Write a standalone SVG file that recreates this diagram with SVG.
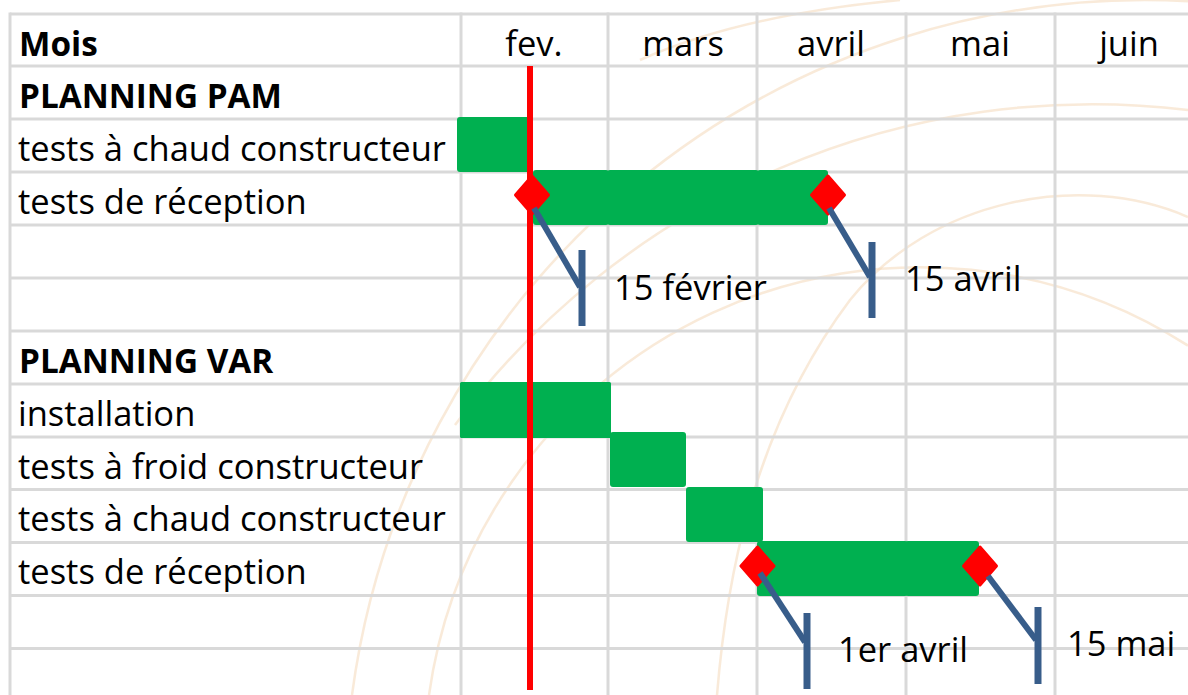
<svg xmlns="http://www.w3.org/2000/svg" width="1188" height="695" viewBox="0 0 1188 695">
  <style>
    .wm { fill: none; stroke: #f3d6b4; stroke-width: 2.5; opacity: 0.5; }
    .grid line { stroke: #d9d9d9; stroke-width: 3; }
    .t { font-family: "Open Sans", "Liberation Sans", sans-serif; font-size: 34.5px; fill: #000; }
    .b { font-family: "Open Sans", "Liberation Sans", sans-serif; font-size: 33.3px; font-weight: bold; fill: #000; }
    .m { text-anchor: middle; }
    .bar { fill: #00b050; }
    .ms { fill: #ff0000; stroke: #ff0000; stroke-width: 3; stroke-linejoin: round; }
    .lead { fill: none; stroke: #385d8a; stroke-width: 6; }
    .accent { stroke: #385d8a; stroke-width: 7; }
    .today { stroke: #ff0000; stroke-width: 6; }
  </style>

  <rect width="1188" height="695" fill="#ffffff"/>

  <!-- faint background arcs -->
  <g id="watermark">
    <path class="wm" d="M352,695 A800,800 0 0 1 1188,1.2"/>
    <path class="wm" d="M455,425 A793,793 0 0 1 1188,110"/>
    <path class="wm" d="M429,695 A496,496 0 0 1 1188,345.6"/>
    <path class="wm" d="M717,695 C728,560 760,420 850,300 C930,200 1080,170 1188,217"/>
    <path class="wm" d="M640,60 Q740,15 900,0"/>
  </g>

  <!-- table grid -->
  <g id="grid" class="grid">
    <line x1="10" y1="14" x2="1188" y2="14"/>
    <line x1="10" y1="66" x2="1188" y2="66"/>
    <line x1="10" y1="119" x2="1188" y2="119"/>
    <line x1="10" y1="172" x2="1188" y2="172"/>
    <line x1="10" y1="225" x2="1188" y2="225"/>
    <line x1="10" y1="278" x2="1188" y2="278"/>
    <line x1="10" y1="331" x2="1188" y2="331"/>
    <line x1="10" y1="384" x2="1188" y2="384"/>
    <line x1="10" y1="437" x2="1188" y2="437"/>
    <line x1="10" y1="489.5" x2="1188" y2="489.5"/>
    <line x1="10" y1="542.5" x2="1188" y2="542.5"/>
    <line x1="10" y1="595.5" x2="1188" y2="595.5"/>
    <line x1="10" y1="648.5" x2="1188" y2="648.5"/>
    <line x1="10" y1="12.5" x2="10" y2="695"/>
    <line x1="461" y1="12.5" x2="461" y2="695"/>
    <line x1="608" y1="12.5" x2="608" y2="695"/>
    <line x1="757" y1="12.5" x2="757" y2="695"/>
    <line x1="906" y1="12.5" x2="906" y2="695"/>
    <line x1="1055" y1="12.5" x2="1055" y2="695"/>
  </g>

  <!-- column headers -->
  <g id="header">
    <text class="b" x="19" y="56">Mois</text>
    <text class="t m" x="534" y="56">fev.</text>
    <text class="t m" x="683" y="56">mars</text>
    <text class="t m" x="831" y="56">avril</text>
    <text class="t m" x="980" y="56">mai</text>
    <text class="t m" x="1129" y="56">juin</text>
  </g>

  <!-- row labels -->
  <g id="labels">
    <text class="b" x="19" y="108">PLANNING PAM</text>
    <text class="t" x="18" y="161">tests à chaud constructeur</text>
    <text class="t" x="18" y="214">tests de réception</text>
    <text class="b" x="19" y="373">PLANNING VAR</text>
    <text class="t" x="18" y="426">installation</text>
    <text class="t" x="18" y="479">tests à froid constructeur</text>
    <text class="t" x="18" y="531">tests à chaud constructeur</text>
    <text class="t" x="18" y="584">tests de réception</text>
  </g>

  <!-- task bars -->
  <g id="pam-chaud">
    <rect class="bar" x="457" y="117" width="73" height="55" rx="3"/>
  </g>
  <g id="pam-reception">
    <rect class="bar" x="533" y="170" width="76" height="55" rx="3"/>
    <rect class="bar" x="607" y="170" width="152" height="55" rx="3"/>
    <rect class="bar" x="757" y="170" width="71" height="55" rx="3"/>
  </g>
  <g id="var-installation">
    <rect class="bar" x="460" y="382" width="151" height="56" rx="1.5"/>
  </g>
  <g id="var-froid">
    <rect class="bar" x="610" y="432" width="76" height="55" rx="3"/>
  </g>
  <g id="var-chaud">
    <rect class="bar" x="686" y="487" width="77" height="55" rx="3"/>
  </g>
  <g id="var-reception">
    <rect class="bar" x="757" y="541" width="151" height="55" rx="3"/>
    <rect class="bar" x="905" y="541" width="74" height="55" rx="3"/>
  </g>

  <!-- current date marker -->
  <g id="today">
    <line class="today" x1="530" y1="66" x2="530" y2="690"/>
  </g>

  <!-- milestones -->
  <g id="ms-pam-start"><path class="ms" d="M532,176 L548.5,195 L532,214 L515.5,195 Z"/></g>
  <g id="ms-pam-end"><path class="ms" d="M828,176 L844.5,195 L828,214 L811.5,195 Z"/></g>
  <g id="ms-var-start"><path class="ms" d="M757.5,547 L774,566 L757.5,585 L741,566 Z"/></g>
  <g id="ms-var-end"><path class="ms" d="M980,547 L996.5,566 L980,585 L963.5,566 Z"/></g>

  <!-- milestone callouts -->
  <g id="connectors">
    <polyline class="lead" points="534,208 580,287"/>
    <line class="accent" x1="582" y1="250" x2="582" y2="326"/>
    <polyline class="lead" points="829,208 870,277"/>
    <line class="accent" x1="872" y1="242" x2="872" y2="318"/>
    <polyline class="lead" points="760,573 805,642"/>
    <line class="accent" x1="807" y1="613" x2="807" y2="689"/>
    <polyline class="lead" points="988,576 1036,640"/>
    <line class="accent" x1="1038" y1="607" x2="1038" y2="684"/>
  </g>

  <g id="callout-labels">
    <text class="t" x="614" y="300">15 février</text>
    <text class="t" x="905" y="291">15 avril</text>
    <text class="t" x="838" y="662">1er avril</text>
    <text class="t" x="1067" y="656">15 mai</text>
  </g>
</svg>
